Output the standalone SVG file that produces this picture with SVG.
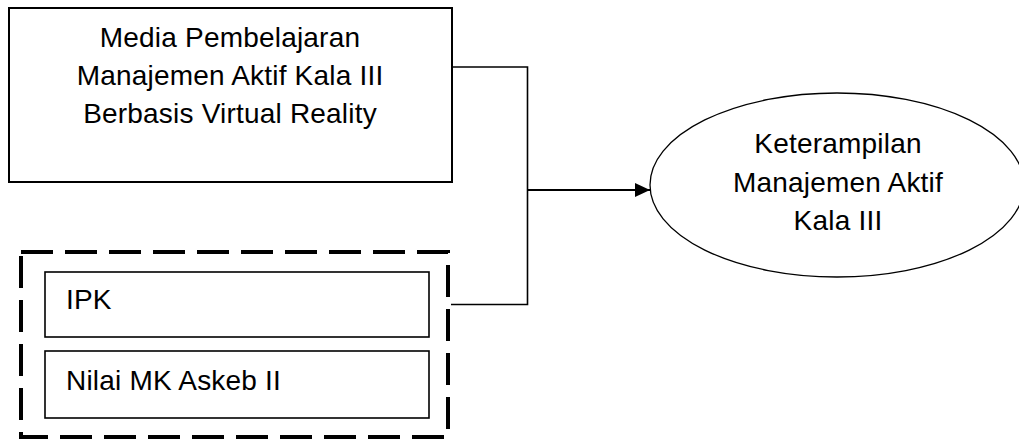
<svg xmlns="http://www.w3.org/2000/svg" width="1019" height="439" viewBox="0 0 1019 439">
<style>
text{font-family:"Liberation Sans",Arial,sans-serif;font-size:28px;letter-spacing:0.2px;fill:#000}
.box{fill:#fff;stroke:#000;stroke-width:2}
.sub{fill:#fff;stroke:#000;stroke-width:1.6}
.conn{fill:none;stroke:#000;stroke-width:1.6}
</style>
<defs>
<marker id="arr" markerWidth="15" markerHeight="14" refX="15" refY="7" orient="auto" markerUnits="userSpaceOnUse" viewBox="0 0 15 14">
<path d="M0,0 L15,7 L0,14 Z" fill="#000"/>
</marker>
</defs>
<g id="connectors">
<polyline class="conn" points="452,67 527.5,67 527.5,304.5 451,304.5"/>
<line x1="527.5" y1="190" x2="650" y2="190" stroke="#000" stroke-width="2" marker-end="url(#arr)"/>
</g>
<g id="media">
<rect class="box" x="9" y="8" width="443" height="174"/>
<text x="230" y="47" text-anchor="middle">Media Pembelajaran</text>
<text x="230" y="85" text-anchor="middle">Manajemen Aktif Kala III</text>
<text x="230" y="123" text-anchor="middle">Berbasis Virtual Reality</text>
</g>
<g id="kontrol">
<rect x="21" y="252" width="427" height="185" fill="none" stroke="#000" stroke-width="4" stroke-dasharray="32,12"/>
</g>
<g id="ipk">
<rect class="sub" x="45" y="272" width="384" height="65"/>
<text x="66" y="309">IPK</text>
</g>
<g id="nilai">
<rect class="sub" x="45" y="351" width="384" height="67"/>
<text x="66" y="390">Nilai MK Askeb II</text>
</g>
<g id="keterampilan">
<ellipse cx="837" cy="185" rx="187" ry="92" fill="#fff" stroke="#000" stroke-width="1.3"/>
<text x="838" y="153" text-anchor="middle">Keterampilan</text>
<text x="838" y="192" text-anchor="middle">Manajemen Aktif</text>
<text x="838" y="230" text-anchor="middle">Kala III</text>
</g>
</svg>
